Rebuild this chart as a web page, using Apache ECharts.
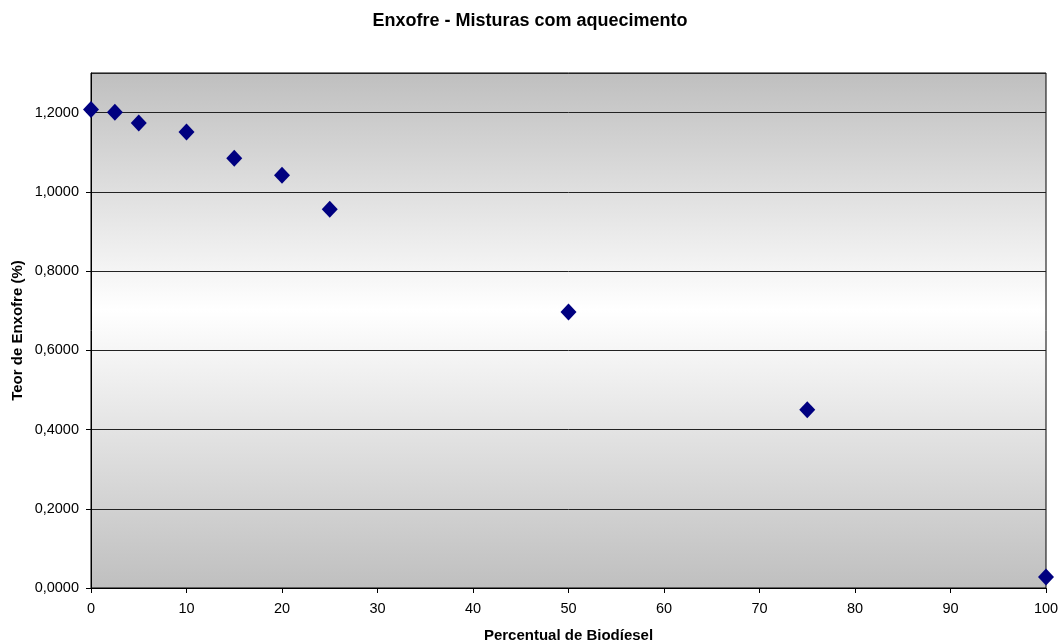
<!DOCTYPE html>
<html>
<head>
<meta charset="utf-8">
<script src="https://cdn.jsdelivr.net/npm/echarts@6/dist/echarts.min.js"></script>
<style>
  html, body { margin: 0; padding: 0; background: #ffffff; }
  #chart { width: 1060px; height: 642px; }
</style>
</head>
<body>
<div id="chart"></div>
<script>
// Biodiesel percentage in the blend
const percentBiodiesel = [0, 2.5, 5, 10, 15, 20, 25, 50, 75, 100];
// Sulfur content (%) for heated blends
const sulfurContent = [1.208, 1.201, 1.174, 1.151, 1.085, 1.042, 0.956, 0.697, 0.450, 0.028];

const points = percentBiodiesel.map((x, i) => [x, sulfurContent[i]]);

const fmtComma = v => v.toFixed(4).replace('.', ',');

const chart = echarts.init(document.getElementById('chart'));
chart.setOption({
  animation: false,
  textStyle: { fontFamily: 'Liberation Sans, Arial, sans-serif' },
  title: {
    text: 'Enxofre - Misturas com aquecimento',
    left: 'center',
    top: 7,
    textStyle: { fontSize: 18, fontWeight: 'bold', color: '#000' }
  },
  grid: {
    left: 91, right: 14, top: 73, bottom: 54,
    outerBoundsMode: 'none',
    containLabel: false,
    show: true,
    borderColor: '#000',
    borderWidth: 1,
    backgroundColor: new echarts.graphic.LinearGradient(0, 0, 0, 1, [
      { offset: 0, color: '#bfbfbf' },
      { offset: 0.46, color: '#ffffff' },
      { offset: 1, color: '#bfbfbf' }
    ])
  },
  xAxis: {
    type: 'value',
    min: 0, max: 100, interval: 10,
    name: 'Percentual de Biodíesel',
    nameLocation: 'middle',
    nameGap: 40,
    nameMoveOverlap: false,
    nameTextStyle: { fontSize: 15, fontWeight: 'bold', color: '#000' },
    axisLine: { show: true, lineStyle: { color: '#000', width: 1 } },
    axisTick: { show: true, length: 5, lineStyle: { color: '#000' } },
    axisLabel: { fontSize: 14.5, color: '#000', margin: 13 },
    splitLine: { show: false }
  },
  yAxis: {
    type: 'value',
    min: 0, max: 1.3, interval: 0.2,
    name: 'Teor de Enxofre (%)',
    nameLocation: 'middle',
    nameGap: 66,
    nameMoveOverlap: false,
    nameTextStyle: { fontSize: 15, fontWeight: 'bold', color: '#000' },
    axisLine: { show: true, lineStyle: { color: '#000', width: 1 } },
    axisTick: { show: true, length: 5, lineStyle: { color: '#000' } },
    axisLabel: { fontSize: 14.5, color: '#000', margin: 12, showMaxLabel: false, formatter: fmtComma },
    splitLine: { show: true, lineStyle: { color: '#222', width: 1 } }
  },
  series: [{
    type: 'scatter',
    data: points,
    symbol: 'diamond',
    symbolSize: [16, 17],
    itemStyle: { color: '#000080', opacity: 1 }
  }]
});
</script>
</body>
</html>
